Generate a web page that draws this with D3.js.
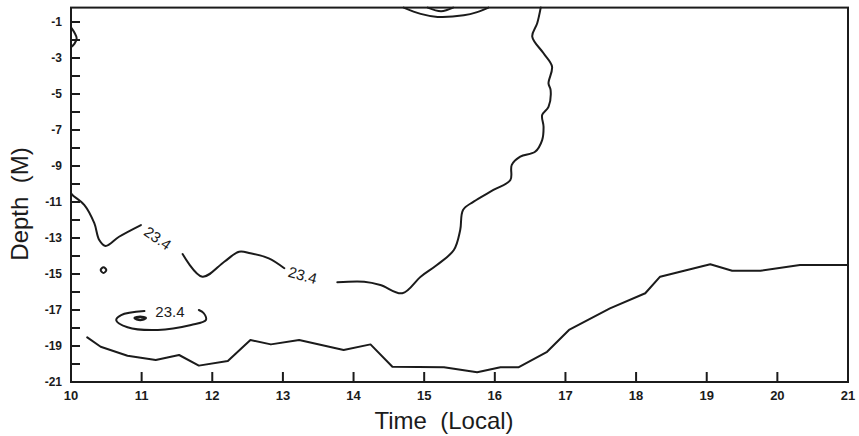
<!DOCTYPE html>
<html>
<head>
<meta charset="utf-8">
<script src="https://cdn.jsdelivr.net/npm/d3@7"></script>
<style>
  body { margin: 0; background: #fff; }
  svg { display: block; }
</style>
</head>
<body>
<div id="chart"></div>
<script>
// axis values
const xTicks = [10, 11, 12, 13, 14, 15, 16, 17, 18, 19, 20, 21];
const yMajorTicks = [-1, -3, -5, -7, -9, -11, -13, -15, -17, -19, -21];
const yMinorTicks = d3.range(-21, 0, 1);

// contour lines, [time, depth]
const bottomLine = [
    [10.23, -18.52], [10.42, -19.04], [10.80, -19.54], [11.20, -19.78], [11.53, -19.50],
    [11.81, -20.09], [12.22, -19.83], [12.54, -18.67], [12.83, -18.91], [13.23, -18.67],
    [13.86, -19.22], [14.24, -18.91], [14.55, -20.15], [15.28, -20.18], [15.75, -20.46],
    [16.08, -20.18], [16.34, -20.18], [16.74, -19.32], [17.05, -18.11], [17.63, -16.91],
    [18.13, -16.07], [18.34, -15.15], [19.05, -14.46], [19.36, -14.82], [19.76, -14.82],
    [20.32, -14.50], [21.00, -14.50]
];
const mainLineA = [
    [16.65, -0.2], [16.60, -1.07], [16.53, -1.81], [16.69, -2.74], [16.81, -3.48],
    [16.76, -4.41], [16.79, -4.78], [16.76, -5.71], [16.67, -6.17], [16.69, -6.82],
    [16.67, -7.56], [16.57, -8.21], [16.36, -8.48], [16.24, -8.94], [16.22, -9.78],
    [15.98, -10.33], [15.70, -10.98], [15.55, -11.44], [15.51, -12.56], [15.42, -13.67],
    [15.18, -14.50], [14.95, -15.15], [14.69, -16.07], [14.38, -15.61], [14.15, -15.43],
    [13.77, -15.46]
];
const mainLineB = [
    [13.02, -14.68], [12.80, -14.13], [12.54, -13.85], [12.38, -13.76], [12.17, -14.32],
    [11.86, -15.15], [11.58, -13.89]
];
const mainLineC = [
    [10.99, -12.28], [10.68, -12.93], [10.49, -13.44], [10.40, -13.11], [10.33, -12.18],
    [10.19, -11.17], [10.02, -10.61], [10.00, -10.50]
];
const ellipseLine = [
    [11.04, -17.06], [10.71, -17.28], [10.64, -17.56], [10.80, -17.96], [11.23, -18.11],
    [11.70, -17.83], [11.91, -17.56], [11.88, -17.18], [11.81, -17.00]
];
const innerDash = [[10.90, -17.45], [10.98, -17.38], [11.06, -17.45], [10.98, -17.55]];
const smallLoop = [[10.42, -14.78], [10.46, -14.62], [10.50, -14.78], [10.46, -14.95]];
const topOuter = [[14.71, -0.2], [14.95, -0.55], [15.19, -0.72], [15.56, -0.63], [15.75, -0.45], [15.91, -0.2]];
const topInner = [[15.05, -0.2], [15.24, -0.40], [15.41, -0.2]];
const leftBlob = [[10.0, -1.30], [10.05, -1.60], [10.08, -1.90], [10.05, -2.20], [10.0, -2.40]];

// contour labels: [time, depth, angle]
const labelText = '23.4';
const labelSpots = [[11.23, -13.0, 35], [13.28, -15.06, 15], [11.40, -17.06, 0]];

const W = 859, H = 436;
const x = d3.scaleLinear().domain([10, 21]).range([71, 848]);
const y = d3.scaleLinear().domain([-21, -0.2]).range([382, 7.6]);
const ink = '#1b1b1b';

const svg = d3.select('#chart').append('svg')
    .attr('width', W)
    .attr('height', H);

// frame
svg.append('rect')
    .attr('x', x(10)).attr('y', y(-0.2))
    .attr('width', x(21) - x(10)).attr('height', y(-21) - y(-0.2))
    .attr('fill', 'none').attr('stroke', ink).attr('stroke-width', 2);

// x ticks point up, y ticks point right
svg.selectAll('.xtick').data(xTicks).enter().append('line')
    .attr('x1', d => x(d)).attr('x2', d => x(d))
    .attr('y1', y(-21)).attr('y2', y(-21) - 10)
    .attr('stroke', ink).attr('stroke-width', 2);

svg.selectAll('.xlabel').data(xTicks).enter().append('text')
    .text(d => d)
    .attr('x', d => x(d)).attr('y', y(-21) + 18)
    .attr('text-anchor', 'middle')
    .style('font-family', 'Liberation Sans, Arial, sans-serif')
    .style('font-weight', 'bold').style('font-size', '13px')
    .style('fill', ink);

svg.selectAll('.ytick').data(yMinorTicks).enter().append('line')
    .attr('x1', x(10)).attr('x2', x(10) + 9)
    .attr('y1', d => y(d)).attr('y2', d => y(d))
    .attr('stroke', ink).attr('stroke-width', 2);

svg.selectAll('.ylabel').data(yMajorTicks).enter().append('text')
    .text(d => '-' + Math.abs(d))
    .attr('x', x(10) - 9).attr('y', d => y(d))
    .attr('text-anchor', 'end').attr('dominant-baseline', 'central')
    .style('font-family', 'Liberation Sans, Arial, sans-serif')
    .style('font-weight', 'bold').style('font-size', '12px')
    .style('fill', ink);

// axis titles
svg.append('text')
    .text('Time  (Local)')
    .attr('x', 444).attr('y', 429)
    .attr('text-anchor', 'middle')
    .style('white-space', 'pre')
    .style('font-family', 'Liberation Sans, Arial, sans-serif')
    .style('font-size', '24px').style('fill', ink);

svg.append('text')
    .text('Depth  (M)')
    .attr('transform', 'translate(28,204) rotate(-90)')
    .attr('text-anchor', 'middle')
    .style('white-space', 'pre')
    .style('font-family', 'Liberation Sans, Arial, sans-serif')
    .style('font-size', '24px').style('fill', ink);

// contours
const line = d3.line().x(d => x(d[0])).y(d => y(d[1]));
const smooth = d3.line().x(d => x(d[0])).y(d => y(d[1])).curve(d3.curveCatmullRom.alpha(0.5));
const closed = d3.line().x(d => x(d[0])).y(d => y(d[1])).curve(d3.curveCardinalClosed);

const g = svg.append('g')
    .attr('fill', 'none').attr('stroke', ink)
    .attr('stroke-width', 2).attr('stroke-linejoin', 'round').attr('stroke-linecap', 'round');

g.append('path').attr('d', line(bottomLine));
[mainLineA, mainLineB, mainLineC, ellipseLine, topOuter, topInner, leftBlob].forEach(pts => {
    g.append('path').attr('d', smooth(pts));
});
g.append('path').attr('d', closed(innerDash)).attr('stroke-width', 2.5);
g.append('path').attr('d', closed(smallLoop)).attr('stroke-width', 2);

svg.selectAll('.clabel').data(labelSpots).enter().append('text')
    .text(labelText)
    .attr('transform', d => `translate(${x(d[0])},${y(d[1])}) rotate(${d[2]})`)
    .attr('text-anchor', 'middle').attr('dominant-baseline', 'central')
    .style('font-family', 'Liberation Sans, Arial, sans-serif')
    .style('font-size', '15px').style('fill', ink);
</script>
</body>
</html>
